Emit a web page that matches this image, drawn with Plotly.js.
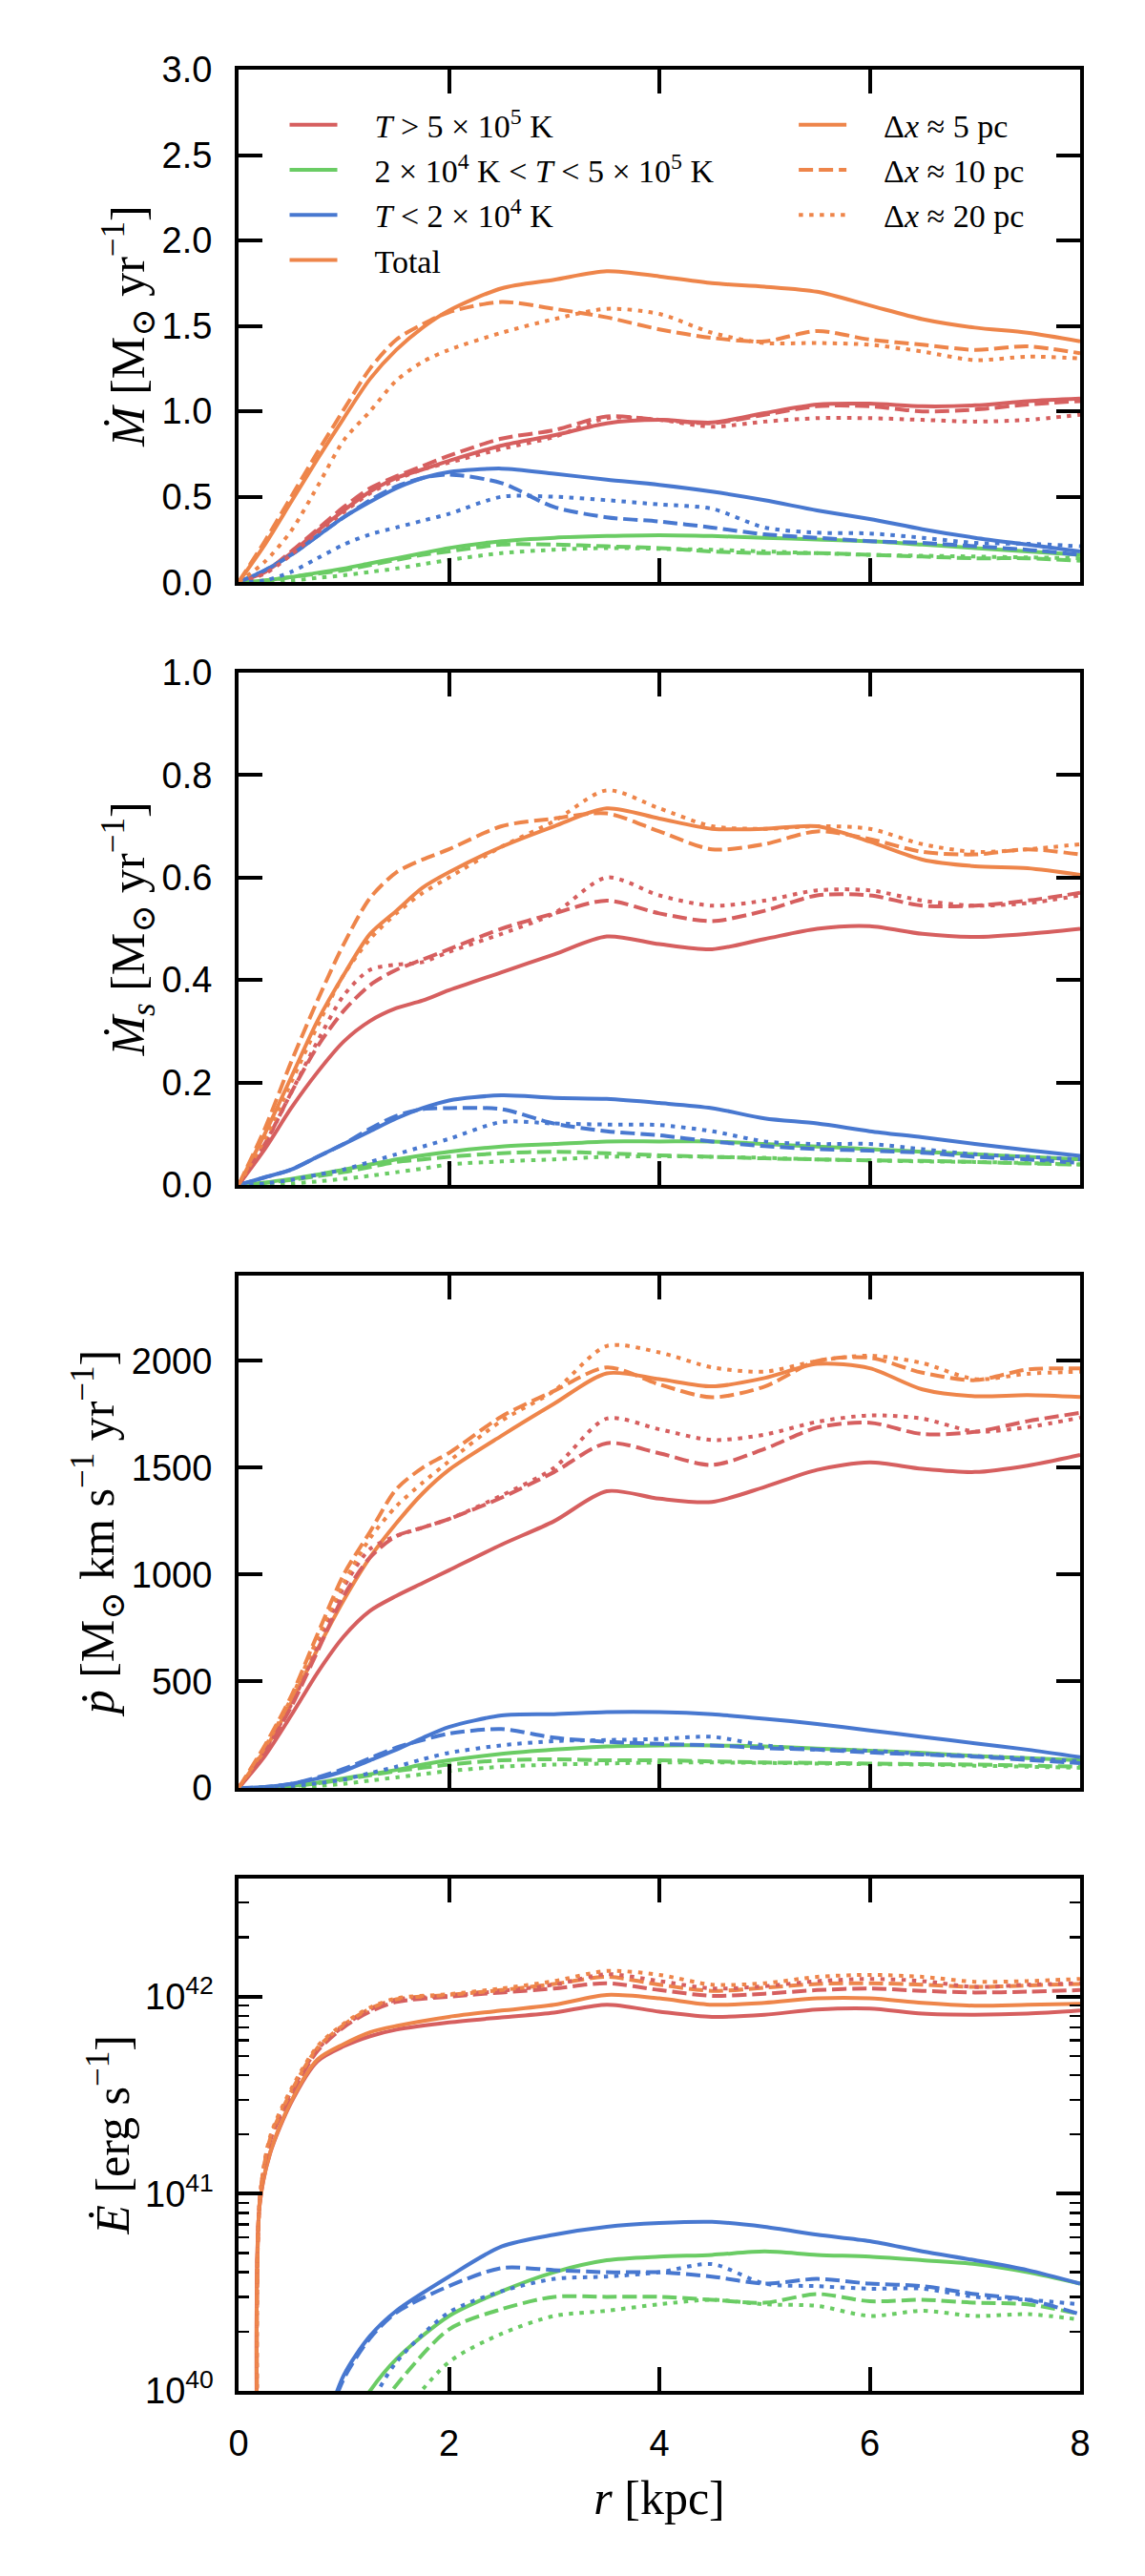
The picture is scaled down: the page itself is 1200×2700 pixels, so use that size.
<!DOCTYPE html>
<html>
<head>
<meta charset="utf-8">
<script src="https://cdn.plot.ly/plotly-3.0.1.min.js"></script>
<style>
body { margin: 0; background: #fff; }
#myDiv { width: 1200px; height: 2700px; }
</style>
</head>
<body>
<div id="myDiv"></div>
<script>
// radius grid (kpc) for the three linear panels
var r = [0, 0.25, 0.5, 0.75, 1, 1.25, 1.5, 1.75, 2, 2.5, 3, 3.5, 4, 4.5, 5, 5.5, 6, 6.5, 7, 7.5, 8];
// radius grid for the energy panel (curves start at ~0.2 kpc)
var rE = [0.19, 0.2, 0.3, 0.5, 0.75, 1, 1.25, 1.5, 2, 2.5, 3, 3.5, 4, 4.5, 5, 5.5, 6, 6.5, 7, 7.5, 8];

// mass outflow rate, Mdot [Msun/yr]
var mdotHot5   = [0, .06, .17, .30, .42, .53, .61, .66, .71, .80, .86, .93, .95, .935, .99, 1.04, 1.045, 1.03, 1.035, 1.06, 1.075];
var mdotHot10  = [0, .06, .18, .31, .44, .55, .62, .68, .74, .84, .89, .97, .95, .93, .98, 1.03, 1.03, 1.00, 1.01, 1.04, 1.06];
var mdotHot20  = [0, .05, .16, .29, .41, .52, .60, .66, .70, .78, .85, .96, .95, .91, .94, .96, .96, .95, .94, .95, .98];
var mdotWarm5  = [0, .01, .03, .055, .08, .11, .14, .17, .20, .24, .26, .27, .275, .27, .26, .25, .24, .22, .20, .18, .16];
var mdotWarm10 = [0, .01, .03, .05, .07, .10, .13, .16, .18, .22, .22, .21, .20, .18, .17, .17, .16, .15, .14, .14, .125];
var mdotWarm20 = [0, .003, .01, .025, .04, .06, .08, .105, .13, .17, .19, .20, .195, .19, .18, .17, .16, .155, .15, .145, .14];
var mdotCold5  = [0, .07, .16, .27, .38, .47, .55, .61, .645, .665, .635, .60, .57, .53, .48, .42, .37, .31, .26, .22, .18];
var mdotCold10 = [0, .07, .16, .27, .38, .48, .56, .61, .63, .58, .44, .38, .355, .32, .28, .26, .24, .23, .21, .19, .16];
var mdotCold20 = [0, .01, .06, .14, .22, .28, .32, .36, .40, .50, .50, .48, .455, .43, .32, .29, .285, .26, .23, .225, .21];
var mdotTot5   = [0, .22, .47, .72, .96, 1.19, 1.36, 1.49, 1.59, 1.72, 1.77, 1.82, 1.79, 1.75, 1.73, 1.70, 1.62, 1.54, 1.49, 1.46, 1.41];
var mdotTot10  = [0, .24, .50, .76, 1.01, 1.25, 1.42, 1.51, 1.58, 1.64, 1.60, 1.55, 1.48, 1.43, 1.41, 1.47, 1.42, 1.39, 1.36, 1.38, 1.34];
var mdotTot20  = [0, .12, .30, .56, .83, 1.00, 1.18, 1.29, 1.36, 1.46, 1.54, 1.60, 1.57, 1.46, 1.40, 1.40, 1.39, 1.35, 1.30, 1.32, 1.31];

// metal outflow rate, Mdot_s [Msun/yr]
var msdotHot5   = [0, .07, .15, .22, .28, .32, .345, .36, .38, .415, .45, .485, .47, .46, .48, .50, .505, .49, .484, .49, .50];
var msdotHot10  = [0, .08, .18, .27, .34, .39, .42, .44, .46, .50, .53, .555, .53, .515, .535, .565, .565, .545, .545, .555, .57];
var msdotHot20  = [0, .08, .18, .28, .37, .42, .43, .435, .455, .49, .53, .60, .565, .545, .555, .575, .575, .555, .545, .55, .565];
var msdotWarm5  = [0, .005, .012, .02, .03, .04, .05, .058, .065, .075, .08, .085, .085, .085, .08, .075, .07, .065, .06, .055, .05];
var msdotWarm10 = [0, .004, .01, .017, .025, .035, .045, .05, .055, .062, .065, .062, .058, .055, .052, .05, .048, .047, .045, .042, .040];
var msdotWarm20 = [0, .001, .003, .007, .012, .018, .025, .032, .04, .046, .05, .055, .056, .055, .053, .05, .048, .046, .045, .043, .04];
var msdotCold5  = [0, .015, .03, .055, .08, .105, .13, .15, .165, .175, .17, .168, .16, .15, .13, .12, .105, .093, .08, .068, .057];
var msdotCold10 = [0, .015, .03, .055, .08, .11, .135, .148, .15, .148, .12, .105, .097, .085, .076, .07, .067, .063, .055, .05, .043];
var msdotCold20 = [0, .003, .01, .02, .03, .045, .06, .075, .09, .123, .12, .118, .117, .105, .085, .08, .08, .07, .06, .055, .05];
var msdotTot5   = [0, .10, .21, .32, .41, .49, .535, .58, .61, .66, .70, .735, .715, .695, .695, .70, .67, .635, .622, .618, .605];
var msdotTot10  = [0, .11, .24, .36, .47, .56, .61, .635, .655, .70, .715, .725, .69, .655, .665, .69, .675, .65, .645, .655, .645];
var msdotTot20  = [0, .09, .20, .31, .41, .48, .53, .57, .60, .66, .71, .77, .735, .70, .695, .70, .695, .665, .65, .655, .665];

// momentum outflow rate, pdot [Msun km/s /yr]
var pdotHot5   = [0, 150, 340, 540, 710, 830, 900, 960, 1020, 1140, 1250, 1390, 1355, 1340, 1410, 1490, 1525, 1495, 1480, 1510, 1560];
var pdotHot10  = [0, 170, 380, 640, 900, 1080, 1180, 1220, 1260, 1360, 1480, 1615, 1568, 1513, 1588, 1688, 1711, 1658, 1668, 1718, 1757];
var pdotHot20  = [0, 180, 390, 660, 940, 1120, 1180, 1220, 1260, 1370, 1500, 1730, 1680, 1630, 1655, 1715, 1745, 1730, 1670, 1690, 1735];
var pdotWarm5  = [0, 2, 10, 25, 45, 65, 85, 110, 130, 160, 180, 195, 200, 200, 195, 185, 175, 165, 150, 140, 130];
var pdotWarm10 = [0, 2, 8, 22, 40, 60, 80, 95, 110, 130, 135, 130, 130, 125, 120, 118, 115, 112, 110, 105, 100];
var pdotWarm20 = [0, 1, 4, 10, 20, 35, 50, 65, 80, 100, 110, 115, 120, 120, 118, 115, 112, 110, 105, 100, 95];
var pdotCold5  = [0, 5, 20, 45, 80, 130, 180, 235, 286, 340, 346, 356, 356, 346, 325, 300, 270, 240, 210, 180, 145];
var pdotCold10 = [0, 5, 20, 50, 90, 140, 190, 225, 255, 276, 236, 217, 207, 200, 187, 180, 167, 157, 147, 132, 117];
var pdotCold20 = [0, 2, 10, 22, 40, 70, 100, 135, 165, 200, 220, 225, 230, 240, 200, 180, 175, 160, 150, 140, 125];
var pdotTot5   = [0, 180, 400, 650, 880, 1080, 1240, 1380, 1490, 1650, 1800, 1942, 1915, 1881, 1920, 1986, 1966, 1867, 1835, 1840, 1831];
var pdotTot10  = [0, 200, 430, 720, 1000, 1200, 1400, 1500, 1569, 1740, 1860, 1970, 1890, 1830, 1880, 2000, 2015, 1945, 1910, 1960, 1965];
var pdotTot20  = [0, 190, 420, 700, 960, 1170, 1320, 1430, 1530, 1720, 1860, 2070, 2040, 1970, 1950, 2000, 2025, 1990, 1915, 1940, 1950];

// energy outflow rate, Edot [erg/s]
var edotHot5   = [1e39, 8.7e40, 1.6e41, 2.9e41, 4.7e41, 5.6e41, 6.3e41, 6.8e41, 7.4e41, 7.85e41, 8.3e41, 9.1e41, 8.4e41, 7.9e41, 8.1e41, 8.6e41, 8.7e41, 8.2e41, 8.1e41, 8.2e41, 8.5e41];
var edotHot10  = [1e39, 9.0e40, 1.85e41, 3.2e41, 5.3e41, 7.0e41, 8.4e41, 9.4e41, 1.0e42, 1.05e42, 1.10e42, 1.17e42, 1.08e42, 1.01e42, 1.035e42, 1.08e42, 1.10e42, 1.07e42, 1.05e42, 1.06e42, 1.08e42];
var edotHot20  = [1e39, 9.0e40, 1.9e41, 3.3e41, 5.4e41, 7.1e41, 8.6e41, 9.6e41, 1.01e42, 1.07e42, 1.15e42, 1.30e42, 1.20e42, 1.10e42, 1.13e42, 1.20e42, 1.23e42, 1.20e42, 1.12e42, 1.15e42, 1.17e42];
var edotWarm5  = [null, null, null, null, null, 6e39, 1.0e40, 1.45e40, 2.4e40, 3.2e40, 4.0e40, 4.6e40, 4.8e40, 4.9e40, 5.1e40, 4.9e40, 4.8e40, 4.6e40, 4.4e40, 4.0e40, 3.5e40];
var edotWarm10 = [null, null, null, null, null, null, 7e39, 1.07e40, 2.05e40, 2.6e40, 3.0e40, 3.0e40, 3.0e40, 2.9e40, 2.8e40, 3.1e40, 2.85e40, 2.9e40, 2.8e40, 2.75e40, 2.45e40];
var edotWarm20 = [null, null, null, null, null, null, null, 7e39, 1.4e40, 1.95e40, 2.4e40, 2.55e40, 2.75e40, 2.9e40, 2.75e40, 2.7e40, 2.4e40, 2.55e40, 2.4e40, 2.45e40, 2.3e40];
var edotCold5  = [null, null, null, null, 5e39, 1.2e40, 1.9e40, 2.55e40, 3.8e40, 5.4e40, 6.2e40, 6.8e40, 7.1e40, 7.2e40, 6.8e40, 6.2e40, 5.75e40, 5.1e40, 4.6e40, 4.1e40, 3.5e40];
var edotCold10 = [null, null, null, null, 5e39, 1.15e40, 1.85e40, 2.5e40, 3.4e40, 4.2e40, 4.1e40, 4.0e40, 4.0e40, 3.8e40, 3.5e40, 3.7e40, 3.5e40, 3.4e40, 3.1e40, 2.9e40, 2.45e40];
var edotCold20 = [null, null, null, null, null, 5e39, 8.5e39, 1.4e40, 2.5e40, 3.2e40, 3.7e40, 3.8e40, 4.0e40, 4.4e40, 3.5e40, 3.4e40, 3.3e40, 3.3e40, 3.0e40, 2.9e40, 2.75e40];
var edotTot5   = [1e39, 8.7e40, 1.62e41, 2.95e41, 4.8e41, 5.75e41, 6.6e41, 7.1e41, 7.9e41, 8.5e41, 9.1e41, 1.02e42, 9.8e41, 9.1e41, 9.3e41, 9.8e41, 9.8e41, 9.3e41, 9.0e41, 9.1e41, 9.2e41];
var edotTot10  = [1e39, 9.0e40, 1.9e41, 3.3e41, 5.5e41, 7.2e41, 8.7e41, 9.7e41, 1.02e42, 1.08e42, 1.16e42, 1.26e42, 1.15e42, 1.07e42, 1.11e42, 1.16e42, 1.17e42, 1.15e42, 1.12e42, 1.14e42, 1.16e42];
var edotTot20  = [1e39, 9.0e40, 1.95e41, 3.4e41, 5.6e41, 7.3e41, 8.8e41, 9.8e41, 1.03e42, 1.10e42, 1.20e42, 1.35e42, 1.29e42, 1.15e42, 1.17e42, 1.26e42, 1.29e42, 1.26e42, 1.19e42, 1.20e42, 1.23e42];

var lead = '\u2002\u2002';
var phaseNames = [lead + '<i>T</i> &gt; 5 × 10<sup>5</sup> K',
                  lead + '2 × 10<sup>4</sup> K &lt; <i>T</i> &lt; 5 × 10<sup>5</sup> K',
                  lead + '<i>T</i> &lt; 2 × 10<sup>4</sup> K',
                  lead + 'Total'];
var resNames = [lead + 'Δ<i>x</i> ≈ 5 pc', lead + 'Δ<i>x</i> ≈ 10 pc', lead + 'Δ<i>x</i> ≈ 20 pc'];

var colors = ['#d65f5f', '#6acc64', '#4878d0', '#ee854a'];
var dashes = ['solid', '15px,6px', '4.5px,6.5px'];

var panels = [
    {xa: 'x', ya: 'y', r: r, sets: [[mdotHot5, mdotHot10, mdotHot20], [mdotWarm5, mdotWarm10, mdotWarm20], [mdotCold5, mdotCold10, mdotCold20], [mdotTot5, mdotTot10, mdotTot20]]},
    {xa: 'x2', ya: 'y2', r: r, sets: [[msdotHot5, msdotHot10, msdotHot20], [msdotWarm5, msdotWarm10, msdotWarm20], [msdotCold5, msdotCold10, msdotCold20], [msdotTot5, msdotTot10, msdotTot20]]},
    {xa: 'x3', ya: 'y3', r: r, sets: [[pdotHot5, pdotHot10, pdotHot20], [pdotWarm5, pdotWarm10, pdotWarm20], [pdotCold5, pdotCold10, pdotCold20], [pdotTot5, pdotTot10, pdotTot20]]},
    {xa: 'x4', ya: 'y4', r: rE, sets: [[edotHot5, edotHot10, edotHot20], [edotWarm5, edotWarm10, edotWarm20], [edotCold5, edotCold10, edotCold20], [edotTot5, edotTot10, edotTot20]]}
];

var data = [];
panels.forEach(function(p) {
    for (var k = 0; k < 3; k++) {
        for (var c = 0; c < 4; c++) {
            data.push({
                x: p.r, y: p.sets[c][k], xaxis: p.xa, yaxis: p.ya,
                type: 'scatter', mode: 'lines', showlegend: false, hoverinfo: 'skip',
                line: {color: colors[c], width: 4, dash: dashes[k], shape: 'spline', smoothing: 0.8}
            });
        }
    }
});

// legend entries (no marks of their own)
for (var c = 0; c < 4; c++) {
    data.push({x: [null], y: [null], type: 'scatter', mode: 'lines', name: phaseNames[c],
               legend: 'legend', line: {color: colors[c], width: 4}});
}
for (var k = 0; k < 3; k++) {
    data.push({x: [null], y: [null], type: 'scatter', mode: 'lines', name: resNames[k],
               legend: 'legend2', line: {color: colors[3], width: 4, dash: dashes[k]}});
}

var tickFont = {family: 'Liberation Sans, Arial, sans-serif', size: 38, color: 'black'};
var serif = 'Liberation Serif, DejaVu Serif, serif';

function xAxis(anchor, labels) {
    return {
        anchor: anchor, range: [0, 8], tick0: 0, dtick: 2, ticks: 'inside', ticklen: 25, tickwidth: 4,
        tickcolor: 'black', showline: true, linewidth: 4, linecolor: 'black', mirror: 'ticks',
        showgrid: false, zeroline: false, showticklabels: labels, tickfont: tickFont, ticklabelstandoff: 18
    };
}
function yAxis(anchor, domain, title) {
    return {
        anchor: anchor, domain: domain, ticks: 'inside', ticklen: 25, tickwidth: 4,
        tickcolor: 'black', showline: true, linewidth: 4, linecolor: 'black', mirror: 'ticks',
        showgrid: false, zeroline: false, tickfont: tickFont, ticklabelstandoff: 16,
        title: {text: title, font: {family: serif, size: 50, color: 'black'}, standoff: 2}
    };
}

var msun = 'M<sub>⊙</sub>';
var layout = {
    width: 1200, height: 2700,
    margin: {l: 250, r: 68, t: 73, b: 194},
    paper_bgcolor: 'white', plot_bgcolor: 'white',
    showlegend: true,
    xaxis: xAxis('y', false),
    xaxis2: xAxis('y2', false),
    xaxis3: xAxis('y3', false),
    xaxis4: xAxis('y4', true),
    yaxis: yAxis('x', [0.7792, 1], '<i>Ṁ</i> [' + msun + ' yr<sup>−1</sup>]'),
    yaxis2: yAxis('x2', [0.5195, 0.7403], '<i>Ṁ<sub>s</sub></i> [' + msun + ' yr<sup>−1</sup>]'),
    yaxis3: yAxis('x3', [0.2597, 0.4805], '<i>ṗ</i> [' + msun + ' km s<sup>−1</sup> yr<sup>−1</sup>]'),
    yaxis4: yAxis('x4', [0, 0.2208], '<i>Ė</i> [erg s<sup>−1</sup>]'),
    legend: {x: 0.055, y: 0.988, xanchor: 'left', yanchor: 'top', bgcolor: 'rgba(0,0,0,0)',
             font: {family: serif, size: 34, color: 'black'}, itemwidth: 50, tracegroupgap: 0},
    legend2: {x: 0.66, y: 0.988, xanchor: 'left', yanchor: 'top', bgcolor: 'rgba(0,0,0,0)',
              font: {family: serif, size: 34, color: 'black'}, itemwidth: 50, tracegroupgap: 0}
};

layout.yaxis.range = [0, 3];
layout.yaxis.dtick = 0.5;
layout.yaxis.tickformat = '.1f';
layout.yaxis2.range = [0, 1];
layout.yaxis2.dtick = 0.2;
layout.yaxis2.tickformat = '.1f';
layout.yaxis3.range = [0, 2400];
layout.yaxis3.dtick = 500;
layout.yaxis4.type = 'log';
layout.yaxis4.range = [40, 42.6];
layout.yaxis4.tick0 = 0;
layout.yaxis4.dtick = 1;
layout.yaxis4.exponentformat = 'power';
layout.yaxis4.tickfont = {family: tickFont.family, size: 30.4, color: 'black'};
layout.yaxis4.minor = {ticks: 'inside', ticklen: 11, tickwidth: 2.5, tickcolor: 'black', dtick: 'D1'};
layout.xaxis4.title = {text: '<i>r</i> [kpc]', font: {family: serif, size: 50, color: 'black'}, standoff: 20};

Plotly.newPlot('myDiv', data, layout, {staticPlot: true});
</script>
</body>
</html>
